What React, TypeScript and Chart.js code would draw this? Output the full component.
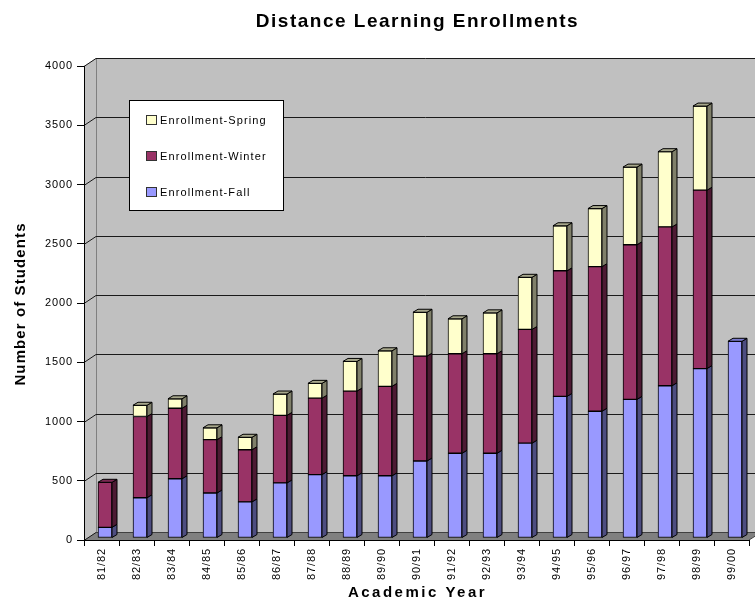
import React, { useEffect, useRef } from "react";
import { Chart, registerables } from "chart.js";

Chart.register(...registerables);

const categories = [
  "81/82", "82/83", "83/84", "84/85", "85/86", "86/87", "87/88", "88/89", "89/90", "90/91",
  "91/92", "92/93", "93/94", "94/95", "95/96", "96/97", "97/98", "98/99", "99/00",
];
const fallValues = [90, 340, 500, 380, 305, 465, 535, 525, 525, 650, 715, 715, 800, 1195, 1070, 1170, 1285, 1430, 1660];
const winterValues = [380, 685, 595, 450, 440, 570, 645, 715, 755, 885, 840, 840, 960, 1060, 1220, 1305, 1340, 1505, 0];
const springValues = [0, 95, 80, 100, 105, 180, 125, 250, 300, 370, 295, 345, 440, 380, 490, 655, 635, 710, 0];
const seriesLabels = ["Enrollment-Fall", "Enrollment-Winter", "Enrollment-Spring"];
const yMin = 0;
const yMax = 4000;
const yStep = 500;

const FRONT = ["#9999ff", "#993366", "#ffffcc"];
const SIDE = ["#4d4d80", "#4d1a33", "#80806a"];
const TOP = ["#7a7acc", "#7a2952", "#a8a88c"];

const FONT = "'Liberation Sans', Arial, sans-serif";
const DX = 12, DY = -8; // wall depth
const BX = 5, BY = -3; // bar depth
const SHIFT_X = 3.5, SHIFT_Y = -2;

const threeD = {
  id: "threeD",
  beforeDraw(chart: any) {
    const ctx = chart.ctx;
    (ctx as any).letterSpacing = "0.9px";
    const { left: L, right: R, top: T, bottom: B } = chart.chartArea;
    const W = chart.width;
    const ys = chart.scales.y;
    ctx.save();
    ctx.fillStyle = "#c0c0c0";
    ctx.beginPath();
    ctx.moveTo(L, B);
    ctx.lineTo(L, T);
    ctx.lineTo(L + DX, T + DY);
    ctx.lineTo(W, T + DY);
    ctx.lineTo(W, B + DY);
    ctx.lineTo(L + DX, B + DY);
    ctx.closePath();
    ctx.fill();
    ctx.fillStyle = "#808080";
    ctx.beginPath();
    ctx.moveTo(L, B);
    ctx.lineTo(R, B);
    ctx.lineTo(R + DX, B + DY);
    ctx.lineTo(L + DX, B + DY);
    ctx.closePath();
    ctx.fill();
    ctx.strokeStyle = "#808080";
    ctx.lineWidth = 1;
    ctx.beginPath();
    ctx.moveTo(L + DX + 0.5, T + DY);
    ctx.lineTo(L + DX + 0.5, B + DY);
    ctx.stroke();
    ctx.strokeStyle = "#1a1a1a";
    for (const t of ys.ticks) {
      const py = Math.round(ys.getPixelForValue(t.value)) + 0.5;
      ctx.beginPath();
      ctx.moveTo(L, py);
      ctx.lineTo(L + DX, py + DY);
      if (t.value > 0) ctx.lineTo(W, py + DY);
      ctx.stroke();
    }
    ctx.strokeStyle = "#404040";
    ctx.beginPath();
    ctx.moveTo(L + DX, B + DY + 0.5);
    ctx.lineTo(R + DX, B + DY + 0.5);
    ctx.lineTo(R, B);
    ctx.stroke();
    ctx.restore();
  },
  beforeDatasetsDraw(chart: any) {
    chart.ctx.save();
    chart.ctx.translate(SHIFT_X, SHIFT_Y);
  },
  afterDatasetsDraw(chart: any) {
    const ctx = chart.ctx;
    const n = chart.data.labels.length;
    const dsCount = chart.data.datasets.length;
    ctx.lineWidth = 1;
    ctx.strokeStyle = "#000";
    for (let i = 0; i < n; i++) {
      let topIdx = -1;
      for (let d = 0; d < dsCount; d++) if (chart.data.datasets[d].data[i] > 0) topIdx = d;
      for (let d = 0; d < dsCount; d++) {
        const v = chart.data.datasets[d].data[i];
        if (!(v > 0)) continue;
        const el = chart.getDatasetMeta(d).data[i];
        const p = el.getProps(["x", "y", "base", "width"], true);
        const left = p.x - p.width / 2;
        const right = p.x + p.width / 2;
        const top = Math.min(p.y, p.base);
        const base = Math.max(p.y, p.base);
        ctx.fillStyle = SIDE[d];
        ctx.beginPath();
        ctx.moveTo(right, top);
        ctx.lineTo(right + BX, top + BY);
        ctx.lineTo(right + BX, base + BY);
        ctx.lineTo(right, base);
        ctx.closePath();
        ctx.fill();
        ctx.stroke();
        if (d === topIdx) {
          ctx.fillStyle = TOP[d];
          ctx.beginPath();
          ctx.moveTo(left, top);
          ctx.lineTo(left + BX, top + BY);
          ctx.lineTo(right + BX, top + BY);
          ctx.lineTo(right, top);
          ctx.closePath();
          ctx.fill();
          ctx.stroke();
        }
      }
    }
    ctx.restore();
  },
  afterDraw(chart: any) {
    const ctx = chart.ctx;
    const { left: L, right: R } = chart.chartArea;
    const cx = (L + R) / 2;
    ctx.save();
    ctx.fillStyle = "#fff";
    ctx.fillRect(129.5, 100.5, 154, 110);
    ctx.strokeStyle = "#000";
    ctx.lineWidth = 1;
    ctx.strokeRect(129.5, 100.5, 154, 110);
    const rows = [2, 1, 0];
    const rowY = [120, 156, 192];
    (ctx as any).letterSpacing = "1.1px";
    ctx.font = `11px ${FONT}`;
    ctx.textBaseline = "middle";
    ctx.textAlign = "left";
    rows.forEach((d, k) => {
      const yc = rowY[k];
      ctx.fillStyle = FRONT[d];
      ctx.fillRect(146.5, yc - 4.5, 10, 9);
      ctx.strokeStyle = "#333";
      ctx.strokeRect(146.5, yc - 4.5, 10, 9);
      ctx.fillStyle = "#000";
      ctx.fillText(chart.data.datasets[d].label, 160, yc + 0.5);
    });
    ctx.textBaseline = "alphabetic";
    ctx.textAlign = "center";
    (ctx as any).letterSpacing = "1.5px";
    ctx.font = `bold 19px ${FONT}`;
    ctx.fillText("Distance Learning Enrollments", cx + 1, 27);
    (ctx as any).letterSpacing = "2.5px";
    ctx.font = `bold 15px ${FONT}`;
    ctx.fillText("Academic Year", cx + 1, 597);
    (ctx as any).letterSpacing = "1.1px";
    ctx.translate(25, 304);
    ctx.rotate(-Math.PI / 2);
    ctx.fillText("Number of Students", 0, 0);
    ctx.restore();
  },
};

export default function App() {
  const ref = useRef<HTMLCanvasElement | null>(null);
  useEffect(() => {
    document.body.style.margin = "0";
    document.body.style.background = "#fff";
    if (!ref.current) return;
    Chart.defaults.font.family = FONT;
    Chart.defaults.color = "#000";
    const values = [fallValues, winterValues, springValues];
    const chart = new Chart(ref.current, {
      type: "bar",
      data: {
        labels: categories,
        datasets: values.map((vals, d) => ({
          label: seriesLabels[d],
          data: vals,
          backgroundColor: FRONT[d],
          borderColor: "#000",
          borderWidth: 1,
          borderSkipped: false,
          barThickness: 14,
        })),
      },
      plugins: [threeD],
      options: {
        animation: false,
        responsive: false,
        maintainAspectRatio: false,
        layout: { padding: { left: 0, right: 6, top: 66, bottom: 0 } },
        plugins: {
          legend: { display: false },
          title: { display: false },
          tooltip: { enabled: false },
        },
        scales: {
          x: {
            stacked: true,
            grid: { display: true, drawOnChartArea: false, offset: true, tickLength: 6, color: "#000" },
            border: { display: true, color: "#000" },
            ticks: { minRotation: 90, maxRotation: 90, autoSkip: false, padding: 2, color: "#000", font: { size: 11 } },
            afterFit: (s: any) => { s.height = 59; },
          },
          y: {
            stacked: true,
            min: yMin,
            max: yMax,
            ticks: {
              stepSize: yStep,
              padding: 4,
              color: "#000",
              font: { size: 11 },
              callback: (v: any) => String(v),
            },
            grid: { drawOnChartArea: false, tickLength: 7, color: "#000" },
            border: { display: true, color: "#000" },
            afterFit: (s: any) => { s.width = 84; },
          },
        },
      },
    } as any);
    return () => chart.destroy();
  }, []);
  return <canvas ref={ref} width={755} height={599} style={{ display: "block" }} />;
}
